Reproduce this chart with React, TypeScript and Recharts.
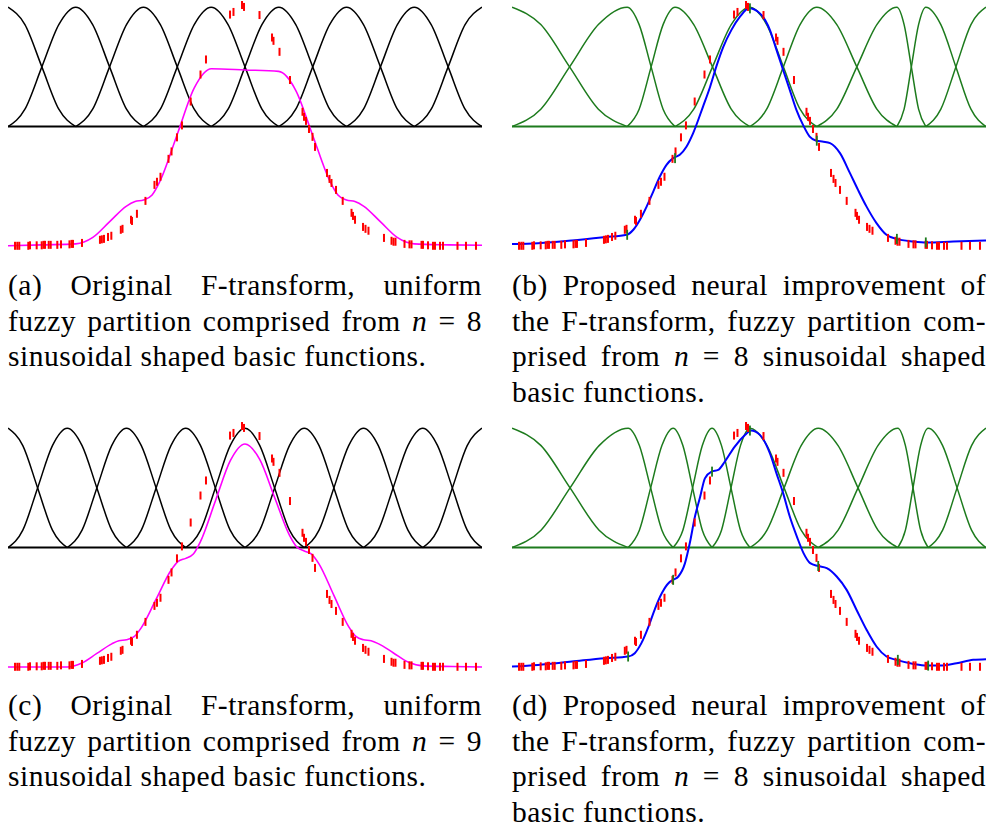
import React from 'react';
import { ComposedChart, Line, Scatter, XAxis, YAxis } from 'recharts';

// ---- measured samples (red ticks), x in [0,1] across a panel, y in data units ----
const SAMPLE_X = [
  0.0148, 0.0196, 0.0238, 0.0428, 0.0464, 0.0605, 0.0711, 0.0749, 0.0781, 0.0859,
  0.0901, 0.104, 0.1118, 0.1297, 0.134, 0.1371, 0.1561, 0.194, 0.198, 0.2025,
  0.211, 0.218, 0.238, 0.2416, 0.2595, 0.2616, 0.272, 0.29, 0.309, 0.3143,
  0.3217, 0.3386, 0.345, 0.3565, 0.367, 0.3854, 0.4061, 0.4177, 0.4684, 0.4757,
  0.4937, 0.4979, 0.5306, 0.557, 0.5601, 0.5728, 0.5949, 0.6213, 0.6245, 0.6287,
  0.635, 0.6424, 0.6477, 0.673, 0.6783, 0.6825, 0.692, 0.7061, 0.7247, 0.7278,
  0.7321, 0.749, 0.7542, 0.7605, 0.7932, 0.8091, 0.8133, 0.8175, 0.8365, 0.847,
  0.8513, 0.8724, 0.8755, 0.8861, 0.8966, 0.9008, 0.9114, 0.9177, 0.9483, 0.9662,
  0.9873,
];
const SAMPLE_Y = [
  0.001, 0.001, 0.001, 0.001, 0.003, 0.003, 0.003, 0.005, 0.005, 0.005,
  0.005, 0.005, 0.007, 0.007, 0.009, 0.009, 0.013, 0.026, 0.028, 0.03,
  0.038, 0.043, 0.068, 0.072, 0.11, 0.105, 0.135, 0.189, 0.256, 0.269,
  0.29, 0.365, 0.396, 0.455, 0.505, 0.605, 0.718, 0.781, 0.969, 0.98,
  1.009, 1.001, 0.967, 0.873, 0.859, 0.813, 0.695, 0.562, 0.541, 0.524,
  0.49, 0.457, 0.415, 0.306, 0.281, 0.264, 0.235, 0.189, 0.139, 0.126,
  0.11, 0.08, 0.072, 0.064, 0.034, 0.022, 0.018, 0.018, 0.009, 0.007,
  0.007, 0.005, 0.005, 0.003, 0.001, 0.001, 0.001, 0.001, 0.001, 0.001,
  0.001,
];

// ---- nodes of the fuzzy partitions ----
const NODES_A = [0, 0.1429, 0.2857, 0.4286, 0.5714, 0.7143, 0.8571, 1];
const NODES_B = [0, 0.243, 0.344, 0.502, 0.643, 0.812, 0.873, 1];
const NODES_C = [0, 0.125, 0.25, 0.375, 0.5, 0.625, 0.75, 0.875, 1];
const NODES_D = [0, 0.245, 0.34, 0.422, 0.502, 0.646, 0.814, 0.878, 1];

// heights of a sinusoidal basic function read at quarter steps of one half
const BASIC_STEPS = [0, 0.25, 0.5, 0.75, 1];
const BASIC_RISE = [0, 0.146, 0.5, 0.854, 1];

// ---- reconstructed curves [x, y] ----
const CURVE_A: [number, number][] = [
  [0, 0.001], [0.071, 0.005], [0.143, 0.009], [0.179, 0.036], [0.214, 0.101], [0.25, 0.167],
  [0.268, 0.186], [0.286, 0.193], [0.304, 0.214], [0.321, 0.273], [0.357, 0.467], [0.393, 0.662],
  [0.429, 0.742], [0.5, 0.737], [0.571, 0.731], [0.607, 0.652], [0.643, 0.462], [0.679, 0.272],
  [0.696, 0.214], [0.714, 0.193], [0.732, 0.186], [0.75, 0.167], [0.786, 0.101], [0.821, 0.036],
  [0.857, 0.009], [0.929, 0.005], [1, 0.003],
];
const CURVE_B: [number, number][] = [
  [0, 0.008], [0.055, 0.012], [0.126, 0.023], [0.196, 0.037], [0.242, 0.047], [0.256, 0.068],
  [0.27, 0.11], [0.284, 0.165], [0.298, 0.228], [0.312, 0.291], [0.326, 0.34], [0.34, 0.368],
  [0.354, 0.382], [0.368, 0.416], [0.382, 0.472], [0.403, 0.584], [0.418, 0.667], [0.431, 0.751],
  [0.446, 0.835], [0.463, 0.905], [0.481, 0.96], [0.5, 0.995], [0.523, 0.974], [0.544, 0.905],
  [0.558, 0.821], [0.572, 0.737], [0.586, 0.654], [0.6, 0.57], [0.614, 0.507], [0.628, 0.458],
  [0.642, 0.441], [0.657, 0.437], [0.671, 0.431], [0.692, 0.389], [0.713, 0.305], [0.73, 0.235],
  [0.748, 0.165], [0.769, 0.096], [0.79, 0.047], [0.811, 0.03], [0.847, 0.019], [0.875, 0.015],
  [0.931, 0.019], [1, 0.023],
];
const CURVE_C: [number, number][] = [
  [0, 0], [0.0625, 0], [0.125, 0], [0.156, 0.017], [0.1875, 0.057], [0.219, 0.097], [0.234, 0.11],
  [0.25, 0.114], [0.266, 0.127], [0.281, 0.164], [0.3125, 0.284], [0.344, 0.405], [0.359, 0.442],
  [0.375, 0.455], [0.391, 0.473], [0.406, 0.525], [0.4375, 0.695], [0.469, 0.864], [0.5, 0.934],
  [0.531, 0.869], [0.5625, 0.71], [0.594, 0.551], [0.609, 0.503], [0.625, 0.486], [0.641, 0.472],
  [0.656, 0.432], [0.6875, 0.3], [0.719, 0.168], [0.734, 0.128], [0.75, 0.114], [0.766, 0.11],
  [0.781, 0.098], [0.8125, 0.06], [0.844, 0.021], [0.875, 0.005], [0.9375, 0.002], [1, 0],
];
const CURVE_D: [number, number][] = [
  [0, 0.002], [0.055, 0.009], [0.126, 0.023], [0.196, 0.037], [0.245, 0.044], [0.259, 0.058],
  [0.273, 0.1], [0.288, 0.169], [0.302, 0.246], [0.316, 0.309], [0.33, 0.351], [0.34, 0.365],
  [0.351, 0.379], [0.365, 0.435], [0.375, 0.518], [0.386, 0.63], [0.397, 0.713], [0.407, 0.79],
  [0.421, 0.818], [0.435, 0.825], [0.449, 0.86], [0.47, 0.923], [0.492, 0.972], [0.504, 0.99],
  [0.523, 0.972], [0.544, 0.895], [0.558, 0.811], [0.572, 0.728], [0.586, 0.63], [0.601, 0.546],
  [0.615, 0.477], [0.629, 0.435], [0.646, 0.423], [0.664, 0.414], [0.685, 0.379], [0.706, 0.323],
  [0.727, 0.239], [0.748, 0.156], [0.769, 0.086], [0.79, 0.044], [0.811, 0.03], [0.847, 0.013],
  [0.875, 0.006], [0.903, 0.006], [0.938, 0.016], [0.973, 0.03], [1, 0.033],
];

// components marked on the improved curves at interior nodes
const NODE_VALUES_B = [0.047, 0.368, 0.995, 0.441, 0.03, 0.015];
const NODE_VALUES_D = [0.044, 0.365, 0.818, 0.99, 0.423, 0.03, 0.006];

const GREEN = '#1d7b1d';
const W = 474;
const H = 252;
const Y_DOMAIN: [number, number] = [-0.025, 1.03];

type Pt = { x: number; y: number };

function buildBasis(nodes: number[]): Pt[][] {
  const fns: Pt[][] = [];
  for (let k = 0; k < nodes.length; k++) {
    const pts: Pt[] = [];
    if (k > 0) {
      const a = nodes[k - 1];
      const b = nodes[k];
      BASIC_STEPS.forEach((s, i) => pts.push({ x: a + (b - a) * s, y: 0.5 + 0.5 * BASIC_RISE[i] }));
    }
    if (k < nodes.length - 1) {
      const a = nodes[k];
      const b = nodes[k + 1];
      BASIC_STEPS.forEach((s, i) => {
        if (k > 0 && i === 0) return;
        pts.push({ x: a + (b - a) * s, y: 0.5 + 0.5 * BASIC_RISE[BASIC_RISE.length - 1 - i] });
      });
    }
    fns.push(pts);
  }
  return fns;
}

const samples: Pt[] = SAMPLE_X.map((x, i) => ({ x, y: SAMPLE_Y[i] }));
const toPts = (c: [number, number][]): Pt[] => c.map(([x, y]) => ({ x, y }));

const RedTick = (props: any) => {
  const { cx, cy } = props;
  if (cx == null || cy == null) return <g />;
  return <rect x={cx - 1} y={cy - 4} width={2} height={8} fill="#ff0000" />;
};
const GreenTick = (props: any) => {
  const { cx, cy } = props;
  if (cx == null || cy == null) return <g />;
  return <rect x={cx - 0.9} y={cy - 5} width={1.8} height={10} fill={GREEN} />;
};

type PanelProps = {
  left: number;
  top: number;
  nodes: number[];
  basisColor: string;
  curve: [number, number][];
  curveColor: string;
  curveWidth: number;
  nodeValues?: number[];
};

function Panel({ left, top, nodes, basisColor, curve, curveColor, curveWidth, nodeValues }: PanelProps) {
  const basis = buildBasis(nodes);
  const marks = nodeValues ? nodeValues.map((y, i) => ({ x: nodes[i + 1], y })) : null;
  return (
    <div style={{ position: 'absolute', left, top, width: W, height: H }}>
      <ComposedChart width={W} height={H} margin={{ top: 0, right: 0, bottom: 0, left: 0 }}>
        <XAxis type="number" dataKey="x" domain={[0, 1]} hide allowDataOverflow />
        <YAxis type="number" dataKey="y" domain={Y_DOMAIN} hide allowDataOverflow />
        {basis.map((pts, i) => (
          <Line
            key={'b' + i}
            data={pts}
            dataKey="y"
            type="monotone"
            stroke={basisColor}
            strokeWidth={1.5}
            dot={false}
            activeDot={false}
            isAnimationActive={false}
          />
        ))}
        <Line
          data={[{ x: 0, y: 0.5 }, { x: 1, y: 0.5 }]}
          dataKey="y"
          type="linear"
          stroke={basisColor}
          strokeWidth={2}
          dot={false}
          activeDot={false}
          isAnimationActive={false}
        />
        <Scatter data={samples} dataKey="y" shape={RedTick} isAnimationActive={false} />
        <Line
          data={toPts(curve)}
          dataKey="y"
          type="monotone"
          stroke={curveColor}
          strokeWidth={curveWidth}
          dot={false}
          activeDot={false}
          isAnimationActive={false}
        />
        {marks && <Scatter data={marks} dataKey="y" shape={GreenTick} isAnimationActive={false} />}
      </ComposedChart>
    </div>
  );
}

const captionStyle: React.CSSProperties = {
  position: 'absolute',
  width: W,
  fontFamily: '"Liberation Serif", "Times New Roman", serif',
  fontSize: 29.5,
  letterSpacing: '0.5px',
  lineHeight: '35.7px',
  color: '#000',
};

function Caption({ left, top, lines }: { left: number; top: number; lines: React.ReactNode[] }) {
  return (
    <div style={{ ...captionStyle, left, top }}>
      {lines.map((ln, i) => {
        const last = i === lines.length - 1;
        return (
          <div
            key={i}
            style={{ textAlign: last ? 'left' : 'justify', textAlignLast: last ? 'left' : 'justify' } as React.CSSProperties}
          >
            {ln}
          </div>
        );
      })}
    </div>
  );
}

export default function App() {
  return (
    <div style={{ position: 'absolute', left: 0, top: 0, width: 988, height: 832, background: '#fff', overflow: 'hidden' }}>
      <Panel left={8} top={0} nodes={NODES_A} basisColor="#000" curve={CURVE_A} curveColor="#ff00ff" curveWidth={1.6} />
      <Panel left={512} top={0} nodes={NODES_B} basisColor={GREEN} curve={CURVE_B} curveColor="#0000ff" curveWidth={2} nodeValues={NODE_VALUES_B} />
      <Panel left={8} top={421} nodes={NODES_C} basisColor="#000" curve={CURVE_C} curveColor="#ff00ff" curveWidth={1.6} />
      <Panel left={512} top={421} nodes={NODES_D} basisColor={GREEN} curve={CURVE_D} curveColor="#0000ff" curveWidth={2} nodeValues={NODE_VALUES_D} />

      <Caption
        left={8}
        top={268}
        lines={[
          '(a) Original F-transform, uniform',
          <>fuzzy partition comprised from <i>n</i> = 8</>,
          'sinusoidal shaped basic functions.',
        ]}
      />
      <Caption
        left={512}
        top={268}
        lines={[
          '(b) Proposed neural improvement of',
          'the F-transform, fuzzy partition com-',
          <>prised from <i>n</i> = 8 sinusoidal shaped</>,
          'basic functions.',
        ]}
      />
      <Caption
        left={8}
        top={688}
        lines={[
          '(c) Original F-transform, uniform',
          <>fuzzy partition comprised from <i>n</i> = 9</>,
          'sinusoidal shaped basic functions.',
        ]}
      />
      <Caption
        left={512}
        top={688}
        lines={[
          '(d) Proposed neural improvement of',
          'the F-transform, fuzzy partition com-',
          <>prised from <i>n</i> = 8 sinusoidal shaped</>,
          'basic functions.',
        ]}
      />
    </div>
  );
}
